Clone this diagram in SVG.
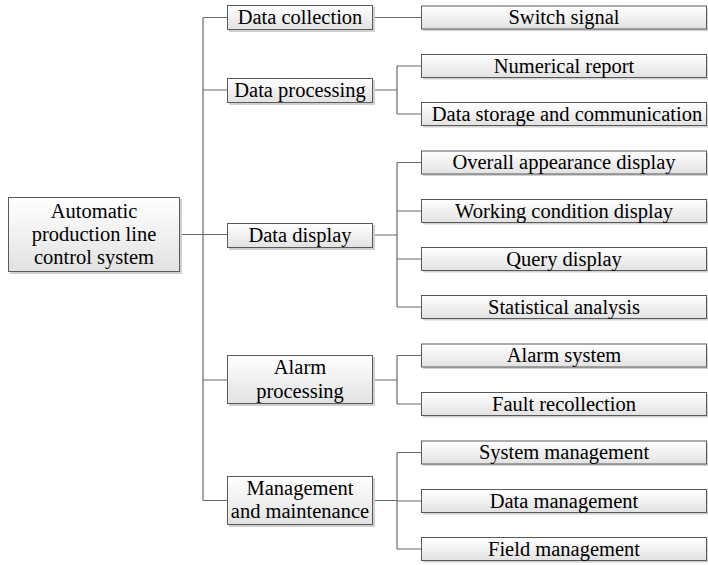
<svg xmlns="http://www.w3.org/2000/svg" width="708" height="565" viewBox="0 0 708 565">
<defs>
<linearGradient id="g" x1="0" y1="0" x2="0" y2="1">
<stop offset="0" stop-color="#ffffff"/>
<stop offset="1" stop-color="#e2e2e2"/>
</linearGradient>
<style>
.b{fill:url(#g);stroke:#5a5a5a;stroke-width:1}
.s{fill:#d0d0d0;stroke:none}
.t{font-size:20.5px;fill:#000;text-anchor:middle}
.c{fill:none;stroke:#6a6a6a;stroke-width:1.2}
</style>
</defs>
<rect width="708" height="565" fill="#fff"/>
<g id="connectors">
<path class="c" d="M180,234.5H227M203,17.5V500.5M203,17.5H227M203,90H227M203,380H227M203,500.5H227"/>
<path class="c" d="M373,17.5H421"/>
<path class="c" d="M373,90H397M397,66V114M397,66H421M397,114H421"/>
<path class="c" d="M373,235H397M397,162.5V307M397,162.5H421M397,211H421M397,259H421M397,307H421"/>
<path class="c" d="M373,380H397M397,355.5V404M397,355.5H421M397,404H421"/>
<path class="c" d="M373,500.5H397M397,452.5V549M397,452.5H421M397,501H421M397,549H421"/>
</g>
<g font-family="'Liberation Serif', Tinos, 'Times New Roman', 'DejaVu Serif', serif">
<g id="root">
<rect class="s" x="10" y="199" width="172" height="75"/>
<rect class="b" x="8.5" y="197.5" width="171" height="74"/>
<text class="t" x="94" y="218">Automatic</text>
<text class="t" x="94" y="241">production line</text>
<text class="t" x="94" y="264">control system</text>
</g>
<g id="data-collection">
<rect class="s" x="229" y="7" width="146" height="25"/>
<rect class="b" x="227.5" y="5.5" width="145" height="24"/>
<text class="t" x="300" y="24">Data collection</text>
</g>
<g id="data-processing">
<rect class="s" x="229" y="80" width="146" height="25"/>
<rect class="b" x="227.5" y="78.5" width="145" height="24"/>
<text class="t" x="300" y="97">Data processing</text>
</g>
<g id="data-display">
<rect class="s" x="229" y="225" width="146" height="25"/>
<rect class="b" x="227.5" y="223.5" width="145" height="24"/>
<text class="t" x="300" y="242">Data display</text>
</g>
<g id="alarm-processing">
<rect class="s" x="229" y="357" width="146" height="49"/>
<rect class="b" x="227.5" y="355.5" width="145" height="48"/>
<text class="t" x="300" y="374">Alarm</text>
<text class="t" x="300" y="398">processing</text>
</g>
<g id="management">
<rect class="s" x="229" y="478" width="146" height="49"/>
<rect class="b" x="227.5" y="476.5" width="145" height="48"/>
<text class="t" x="300" y="495">Management</text>
<text class="t" x="300" y="518">and maintenance</text>
</g>
<g id="switch-signal">
<rect class="s" x="423" y="8" width="285" height="23"/>
<rect class="b" x="421.5" y="6" width="285" height="23"/>
<text class="t" x="564" y="24">Switch signal</text>
</g>
<g id="numerical-report">
<rect class="s" x="423" y="56.5" width="285" height="23"/>
<rect class="b" x="421.5" y="54.5" width="285" height="23"/>
<text class="t" x="564" y="72.5">Numerical report</text>
</g>
<g id="data-storage">
<rect class="s" x="423" y="104.5" width="285" height="23"/>
<rect class="b" x="421.5" y="102.5" width="285" height="23"/>
<text class="t" x="567" y="120.5">Data storage and communication</text>
</g>
<g id="overall-appearance">
<rect class="s" x="423" y="153" width="285" height="23"/>
<rect class="b" x="421.5" y="151" width="285" height="23"/>
<text class="t" x="564" y="169">Overall appearance display</text>
</g>
<g id="working-condition">
<rect class="s" x="423" y="201.5" width="285" height="23"/>
<rect class="b" x="421.5" y="199.5" width="285" height="23"/>
<text class="t" x="564" y="217.5">Working condition display</text>
</g>
<g id="query-display">
<rect class="s" x="423" y="249.5" width="285" height="23"/>
<rect class="b" x="421.5" y="247.5" width="285" height="23"/>
<text class="t" x="564" y="265.5">Query display</text>
</g>
<g id="statistical-analysis">
<rect class="s" x="423" y="297.5" width="285" height="23"/>
<rect class="b" x="421.5" y="295.5" width="285" height="23"/>
<text class="t" x="564" y="313.5">Statistical analysis</text>
</g>
<g id="alarm-system">
<rect class="s" x="423" y="346" width="285" height="23"/>
<rect class="b" x="421.5" y="344" width="285" height="23"/>
<text class="t" x="564" y="362">Alarm system</text>
</g>
<g id="fault-recollection">
<rect class="s" x="423" y="394.5" width="285" height="23"/>
<rect class="b" x="421.5" y="392.5" width="285" height="23"/>
<text class="t" x="564" y="410.5">Fault recollection</text>
</g>
<g id="system-management">
<rect class="s" x="423" y="443" width="285" height="23"/>
<rect class="b" x="421.5" y="441" width="285" height="23"/>
<text class="t" x="564" y="459">System management</text>
</g>
<g id="data-management">
<rect class="s" x="423" y="491.5" width="285" height="23"/>
<rect class="b" x="421.5" y="489.5" width="285" height="23"/>
<text class="t" x="564" y="507.5">Data management</text>
</g>
<g id="field-management">
<rect class="s" x="423" y="539.5" width="285" height="23"/>
<rect class="b" x="421.5" y="537.5" width="285" height="23"/>
<text class="t" x="564" y="555.5">Field management</text>
</g>
</g>
</svg>
